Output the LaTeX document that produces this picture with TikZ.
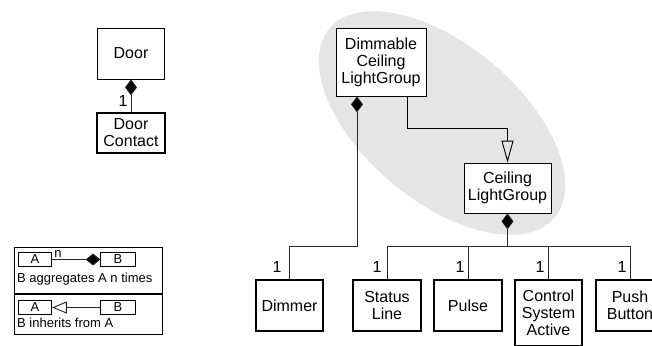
\documentclass[tikz,border=0pt]{standalone}
\usepackage{fontspec}
\setmainfont{Liberation Sans}
\usetikzlibrary{arrows.meta}
\tikzset{
  cls/.style={draw, line width=0.8pt, fill=white, align=center, inner sep=0pt,
    font=\fontsize{16}{17}\selectfont},
  clsthick/.style={cls, line width=1.6pt},
  mult/.style={inner sep=0pt, font=\fontsize{16}{17}\selectfont},
  conn/.style={draw=black!85, line width=0.9pt},
  aggtip/.style={{Diamond[length=16pt,width=12pt,fill=black]}-},
  inhtip/.style={-{Triangle[open,length=22pt,width=12pt,fill=none]}},
  lbox/.style={draw, line width=0.7pt, inner sep=0pt, minimum height=14pt,
    font=\fontsize{13}{14}\selectfont},
  ltext/.style={inner sep=0pt, anchor=west, font=\fontsize{13}{14}\selectfont},
}
\begin{document}
\begin{tikzpicture}[x=1pt,y=-1pt]
\useasboundingbox (0,0) rectangle (652,345);
\clip (0,0) rectangle (652,345);

% grouping ellipse
\fill[gray!20, rotate around={-40:(442,123)}] (442,123) ellipse [x radius=147pt, y radius=78pt];

% Door
\node[cls, minimum width=67pt, minimum height=51pt] (door) at (131,53.5) {Door};
\node[clsthick, minimum width=68pt, minimum height=40pt] (contact) at (131,133) {Door\\Contact};
\draw[conn, aggtip] (door.south) -- (contact.north);
\node[mult] (m0) at (123,101) {1};

% upper classes
\node[cls, minimum width=90pt, minimum height=68pt] (dcl) at (381,62) {Dimmable\\Ceiling\\LightGroup};
\node[cls, minimum width=87pt, minimum height=50pt] (cl) at (507.5,188) {Ceiling\\LightGroup};

% lower classes
\node[clsthick, minimum width=67pt, minimum height=51pt] (dimmer) at (289.5,305.5) {Dimmer};
\node[clsthick, minimum width=68pt, minimum height=51pt] (status) at (387,305.5) {Status\\Line};
\node[clsthick, minimum width=68pt, minimum height=51pt] (pulse) at (468,305.5) {Pulse};
\node[clsthick, minimum width=67pt, minimum height=66pt] (control) at (548.5,313) {Control\\System\\Active};
\node[clsthick, minimum width=68pt, minimum height=51pt] (push) at (630,305.5) {Push\\Button};

\coordinate (bus) at (0,246.7);

% inheritance
\draw[conn, draw=black, inhtip] ([xshift=26pt]dcl.south) -- ++(0,32.3) -| (cl.north);

% aggregation from Dimmable
\draw[conn, aggtip] ([xshift=-24pt]dcl.south) -- ([xshift=-24pt]dcl.south |- bus) -| (dimmer.north);

% aggregation from Ceiling
\draw[conn, aggtip] (cl.south) -- (cl.south |- bus);
\draw[conn] (status.north) -- (status.north |- bus) -- (push.north |- bus) -- (push.north);
\draw[conn] (pulse.north) -- (pulse.north |- bus);
\draw[conn] (control.north) -- (control.north |- bus);

\node[mult] (m1) at (277,267) {1};
\node[mult] (m2) at (377,267) {1};
\node[mult] (m3) at (460,267) {1};
\node[mult] (m4) at (540,267) {1};
\node[mult] (m5) at (622,267) {1};

% legend
\draw[line width=0.7pt] (14,247) rectangle (162,334);
\draw[line width=1.5pt] (14,294) -- (162,294);
\node[lbox, minimum width=33.5pt] (la1) at (35,259.5) {A};
\node[lbox, minimum width=34.5pt] (lb1) at (118,259.5) {B};
\draw[conn, -{Diamond[length=14.7pt,width=12pt,fill=black]}] (la1.east) -- (lb1.west);
\node[inner sep=0pt, font=\fontsize{13}{14}\selectfont] (ln) at (58,254) {n};
\node[ltext] (lt1) at (17,279.5) {B aggregates A n times};
\node[lbox, minimum width=33.5pt] (la2) at (35,307.5) {A};
\node[lbox, minimum width=34.5pt] (lb2) at (118,307.5) {B};
\draw[conn, {Triangle[open,length=14.7pt,width=12pt,fill=none]}-] (la2.east) -- (lb2.west);
\node[ltext] (lt2) at (17,323) {B inherits from A};
\end{tikzpicture}
\end{document}
